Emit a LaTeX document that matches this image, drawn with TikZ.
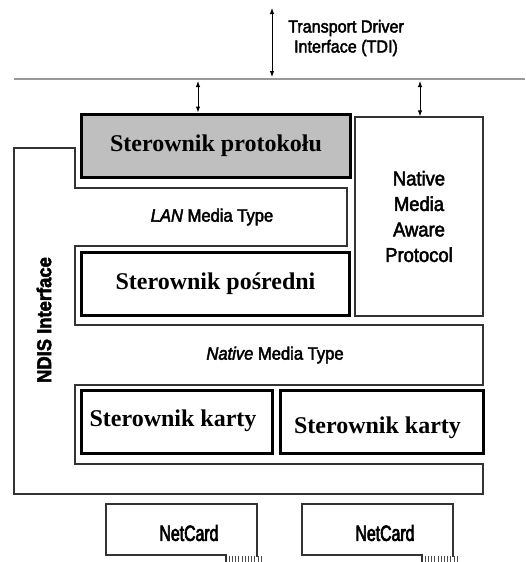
\documentclass[tikz,border=0pt]{standalone}
\usepackage{fontspec}
\setmainfont{Liberation Serif}
\newfontfamily\labelfont[FakeStretch=0.92,FakeBold=2.5]{Liberation Sans}
\newfontfamily\cardfont[FakeStretch=0.72,FakeBold=3]{Liberation Sans}
\usetikzlibrary{arrows.meta,positioning}

\tikzset{
  thickbox/.style={draw=black, line width=3pt, inner sep=0pt,
    font=\fontsize{24}{28}\selectfont\bfseries},
  thinline/.style={draw=black!80, line width=1.2pt},
  sanslabel/.style={font=\labelfont\fontsize{18}{20}\selectfont, align=center, inner sep=0pt},
  link/.style={{Latex[length=6pt,width=4.5pt]}-{Latex[length=6pt,width=4.5pt]}, line width=1pt}
}

\begin{document}
\begin{tikzpicture}[x=1pt,y=-1pt]
  \useasboundingbox (0,0) rectangle (525,562);

  % TDI bus
  \coordinate (busL) at (14,79);
  \coordinate (busR) at (525,79);
  \draw [line width=2.5pt, black!40] (busL) -- (busR);
  \coordinate (tdiTop) at (272,8);
  \coordinate (tdiBus) at (272,77);
  \draw [link] (tdiTop) -- (tdiBus);
  \node [sanslabel, font=\labelfont\fontsize{17.5}{20}\selectfont] (tdi) at (346,38)
    {Transport Driver\\Interface (TDI)};

  % NDIS outline
  \draw [thinline] (14,148) -- (75,148) -- (75,188) -- (347,188) -- (347,246)
    -- (75,246) -- (75,325) -- (483,325) -- (483,385) -- (75,385) -- (75,464)
    -- (483,464) -- (483,494) -- (14,494) -- cycle;
  \node [sanslabel, rotate=90, font=\labelfont\fontsize{20}{24}\selectfont\bfseries]
    (ndis) at (44,320) {NDIS Interface};

  % drivers
  \node [thickbox, fill=black!25, minimum width=269pt, minimum height=63pt]
    (proto) at (216,145.5) {Sterownik protokołu};
  \node [thinline, draw, inner sep=0pt, minimum width=128pt, minimum height=199pt,
    align=center, font=\labelfont\fontsize{20}{25.5}\selectfont]
    (native) at (419,216.5) {Native\\Media\\Aware\\Protocol};
  \node [sanslabel] (lan) at (212,217) {\textit{LAN} Media Type};
  \node [thickbox, minimum width=268pt, minimum height=63pt]
    (inter) at (215.5,284) {Sterownik pośredni};
  \node [sanslabel] (nmt) at (275,355) {\textit{Native} Media Type};
  \node [thickbox, minimum width=191pt, minimum height=63pt]
    (cardA) at (177,422) {\raisebox{1pt}[\height][\depth]{Sterownik karty\hspace*{8pt}}};
  \node [thickbox, minimum width=203pt, minimum height=63pt]
    (cardB) at (382,422) {\raisebox{-6pt}[\height][\depth]{Sterownik karty\hspace*{9pt}}};

  % links to the bus
  \coordinate (busA) at (198,81);
  \coordinate (busB) at (420,81);
  \draw [link] (busA) -- (busA |- proto.north);
  \draw [link] (busB) -- (busB |- native.north);

  % network cards
  \foreach \cx/\nm in {106/netA, 302/netB} {
    \draw [thinline] (\cx+120,562) -- (\cx+120,555) -- (\cx,555) -- (\cx,504)
      -- (\cx+151,504) -- (\cx+151,557);
    \foreach \i in {0,...,10}
      \draw [black!70, line width=0.6pt] (\cx+123+\i*3.2,556) -- (\cx+123+\i*3.2,562);
    \node [font=\cardfont\fontsize{22}{24}\selectfont, inner sep=0pt] (\nm) at (\cx+83,533) {NetCard};
  }
\end{tikzpicture}
\end{document}
